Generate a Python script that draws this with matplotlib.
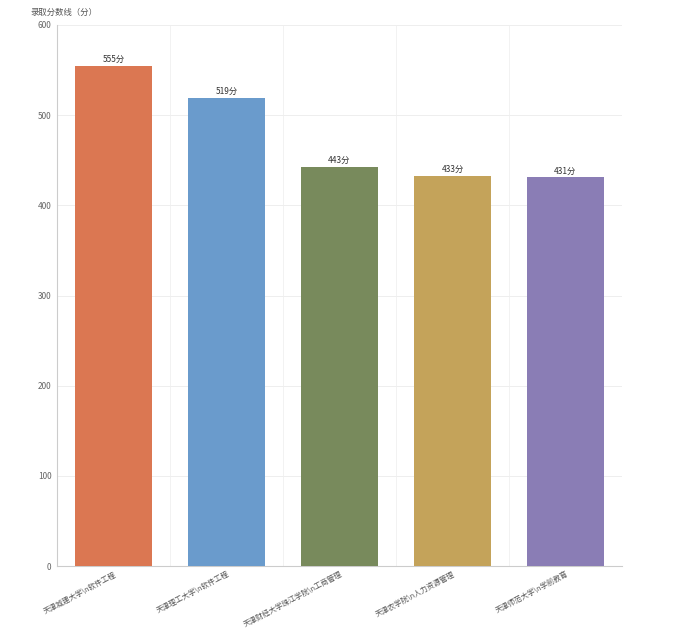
import matplotlib
matplotlib.use("Agg")
import matplotlib.pyplot as plt
import numpy as np

plt.rcParams['font.family'] = ['Noto Sans CJK SC', 'DejaVu Sans']

schools = ["天津城建大学\\n软件工程", "天津理工大学\\n软件工程",
           "天津财经大学珠江学院\\n工商管理", "天津农学院\\n人力资源管理",
           "天津师范大学\\n学前教育"]
scores = [555, 519, 443, 433, 431]
colors = ["#DB7752", "#6A9BCC", "#788A5C", "#C4A35A", "#8A7DB5"]

fig = plt.figure(figsize=(6.75, 6.28), dpi=100)
ax = fig.add_axes([57 / 675, 1 - 566 / 628, 565 / 675, 541 / 628])

x = np.arange(len(schools))
bars = ax.bar(x, scores, width=0.69, color=colors, zorder=3)
for b, v in zip(bars, scores):
    ax.text(b.get_x() + b.get_width() / 2, v + 2, f"{v}分", ha="center", va="bottom",
            fontsize=6, color="#333333", zorder=4)

ax.set_xlim(-0.5, len(schools) - 0.5)
ax.set_ylim(0, 600)
ax.set_yticks(range(0, 601, 100))
ax.set_xticks(x)
ax.set_xticklabels(schools, rotation=28, ha="right", rotation_mode="anchor",
                   fontsize=5.3, color="#555555")
ax.tick_params(axis="y", labelsize=6, labelcolor="#666666", length=0, pad=4)
ax.tick_params(axis="x", length=0, pad=3)

ax.set_xticks(np.arange(-0.5, len(schools), 1), minor=True)
ax.grid(axis="y", color="#EEEEEE", linewidth=0.7, zorder=0)
ax.grid(axis="x", which="minor", color="#F2F2F2", linewidth=0.7, zorder=0)
ax.tick_params(which="minor", length=0)

for s in ["top", "right"]:
    ax.spines[s].set_visible(False)
for s in ["left", "bottom"]:
    ax.spines[s].set_color("#CCCCCC")
    ax.spines[s].set_linewidth(0.8)

fig.text(30 / 675, 1 - 12 / 628, "录取分数线（分）", fontsize=6, color="#555555",
         ha="left", va="center")

fig.savefig("out.png", dpi=100)
